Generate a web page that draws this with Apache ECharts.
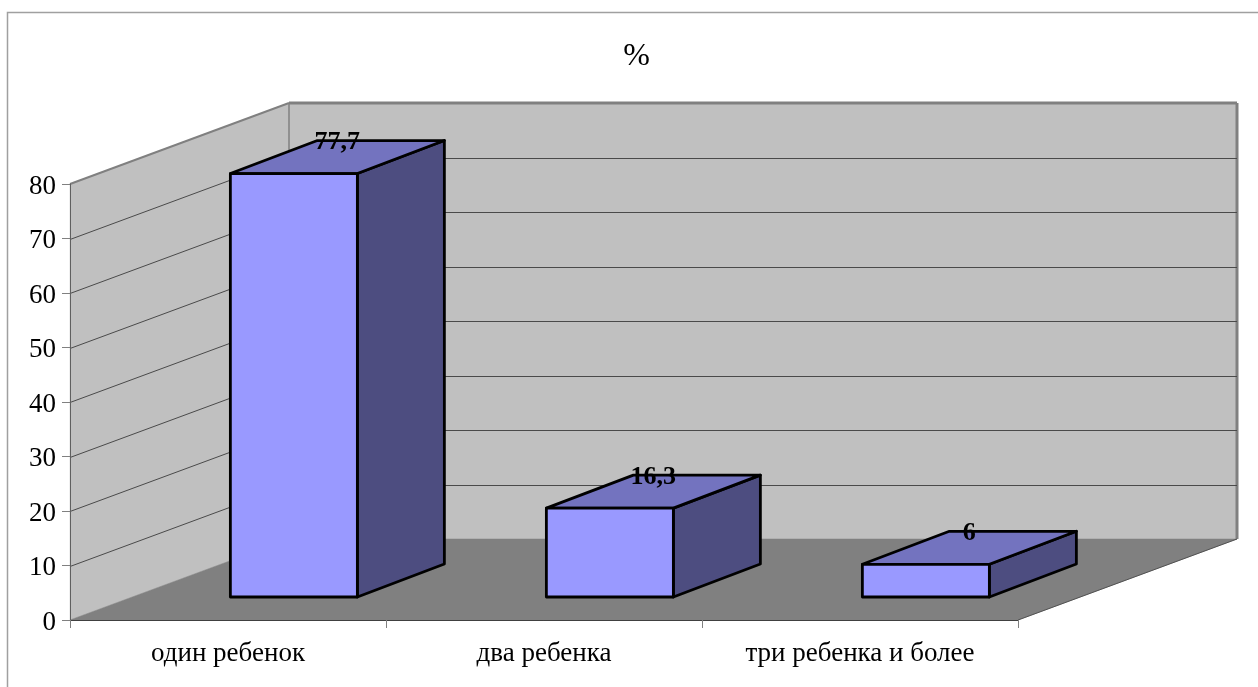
<!DOCTYPE html>
<html><head><meta charset="utf-8">
<style>html,body{margin:0;padding:0;background:#fff}#c{width:1258px;height:687px}</style>
<script src="https://cdn.jsdelivr.net/npm/echarts@6/dist/echarts.min.js"></script>
</head><body><div id="c"></div>
<script>
const categories = ['один ребенок', 'два ребенка', 'три ребенка и более'];
const values = [77.7, 16.3, 6];
const gridValues = [10, 20, 30, 40, 50, 60, 70];
const chartTitle = '%';

const FONT = '"Liberation Serif","Times New Roman",serif';
const WALL = '#C0C0C0', FLOOR = '#808080', EDGE = '#808080', GRIDC = '#4a4a4a';
const DX = 219, DY = 81;            // depth vector of the 3D box
const BAR_SHIFT_Y = 23;             // bar base is this far back from the front plane
const BAR_DX = 87, BAR_DY = 33;     // depth of each bar
const BAR_W = 0.4019, BAR_OFF = 0.0075; // fractions of the category band

const chart = echarts.init(document.getElementById('c'), null, {renderer: 'canvas'});

function poly(points, fill, z2) {
  return {type: 'polygon', z2: z2 || 0, shape: {points}, style: {fill, stroke: fill, lineWidth: 0.5}};
}
function line(x1, y1, x2, y2, stroke, lineWidth, z2) {
  return {type: 'line', z2: z2 || 1, shape: {x1, y1, x2, y2}, style: {stroke, lineWidth, fill: null}};
}

function renderWalls(params, api) {
  const cs = params.coordSys;
  const L = cs.x, R = cs.x + cs.width, T = cs.y, B = cs.y + cs.height;
  return {type: 'group', children: [
    poly([[L, T], [L + DX, T - DY], [L + DX, B - DY], [L, B]], WALL),
    poly([[L + DX, T - DY], [R + DX, T - DY], [R + DX, B - DY], [L + DX, B - DY]], WALL),
    poly([[L, B], [L + DX, B - DY], [R + DX, B - DY], [R, B]], FLOOR),
    line(L, T, L + DX, T - DY, EDGE, 2, 3),
    line(L + DX, T - DY, R + DX, T - DY, EDGE, 3, 3),
    line(L + DX, T - DY, L + DX, B - DY, EDGE, 1.5, 3),
    line(R + DX, T - DY, R + DX, B - DY, EDGE, 3, 3),
    line(R, B, R + DX, B - DY, '#505050', 1, 3)
  ]};
}

function renderGrid(params, api) {
  const cs = params.coordSys;
  const y = Math.round(api.coord([0, api.value(1)])[1]) + 0.5;
  const L = cs.x, R = cs.x + cs.width;
  return {type: 'group', children: [
    line(L, y, L + DX, y - DY, GRIDC, 1),
    line(L + DX, y - DY, R + DX, y - DY, GRIDC, 1)
  ]};
}

function renderBar(params, api) {
  const i = api.value(0), v = api.value(1);
  const top = api.coord([i, v]), base = api.coord([i, 0]);
  const band = api.size([1, 0])[0];
  const x0 = top[0] + band * BAR_OFF;
  const x1 = x0 + band * BAR_W;
  const yT = top[1] - BAR_SHIFT_Y, yB = base[1] - BAR_SHIFT_Y;
  const face = (points, fill) => ({type: 'polygon', shape: {points},
    style: {fill, stroke: '#000', lineWidth: 2.8, lineJoin: 'round'}});
  return {type: 'group', children: [
    face([[x1, yT], [x1 + BAR_DX, yT - BAR_DY], [x1 + BAR_DX, yB - BAR_DY], [x1, yB]], '#4D4D80'),
    face([[x0, yT], [x0 + BAR_DX, yT - BAR_DY], [x1 + BAR_DX, yT - BAR_DY], [x1, yT]], '#7373BF'),
    face([[x0, yT], [x1, yT], [x1, yB], [x0, yB]], '#9999FF'),
    {type: 'text', z2: 10, style: {
      text: String(v).replace('.', ','),
      x: (x0 + x1 + BAR_DX) / 2, y: yT - BAR_DY + 2,
      align: 'center', verticalAlign: 'middle',
      font: 'bold 26px ' + FONT, fill: '#000'
    }}
  ]};
}

chart.setOption({
  animation: false,
  backgroundColor: '#fff',
  title: {text: chartTitle, left: 631.5, top: 36, textAlign: 'center',
    textStyle: {fontFamily: FONT, fontSize: 32, fontWeight: 'normal', color: '#000'}},
  grid: {left: 70, right: 240, top: 184, bottom: 67, containLabel: false},
  xAxis: {type: 'category', data: categories, z: 5,
    axisLine: {show: true, onZero: false, lineStyle: {color: '#404040', width: 1}},
    axisTick: {show: true, alignWithLabel: false, length: 8, lineStyle: {color: '#808080'}},
    axisLabel: {fontFamily: FONT, fontSize: 27, color: '#000', margin: 20, interval: 0},
    splitLine: {show: false}},
  yAxis: {type: 'value', min: 0, max: 80, interval: 10, z: 5,
    axisLine: {show: true, lineStyle: {color: '#606060', width: 1}},
    axisTick: {show: true, length: 8, lineStyle: {color: '#808080'}},
    axisLabel: {fontFamily: FONT, fontSize: 27, color: '#000', margin: 14,
      verticalAlign: 'top', padding: [-11, 0, 0, 0]},
    splitLine: {show: false}},
  graphic: [{type: 'polyline', z: 0, silent: true,
    shape: {points: [[7.5, 687], [7.5, 12.5], [1258, 12.5]]},
    style: {stroke: '#A0A0A0', lineWidth: 1.5, fill: null}}],
  series: [
    {type: 'custom', z: 1, clip: false, silent: true, renderItem: renderWalls, data: [[0, 0]]},
    {type: 'custom', z: 2, clip: false, silent: true, renderItem: renderGrid,
      data: gridValues.map(v => [0, v])},
    {type: 'custom', z: 3, clip: false, silent: true, renderItem: renderBar,
      data: values.map((v, i) => [i, v])}
  ]
});
</script></body></html>
